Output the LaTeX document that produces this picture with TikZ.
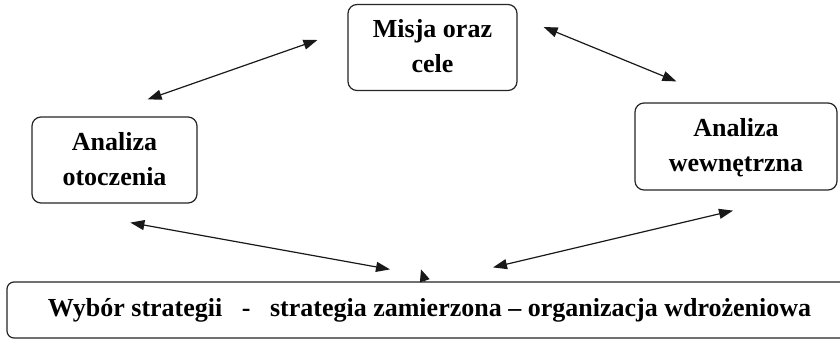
\documentclass[tikz,border=0pt]{standalone}
\usepackage{fontspec}
\setmainfont{Liberation Serif}
\usetikzlibrary{arrows.meta}
\tikzset{
  pole/.style={draw=black!85, line width=1.2pt, rounded corners=9pt,
    align=center, font=\fontsize{26}{35}\selectfont\bfseries, inner sep=0pt},
  strzalka/.style={black!90, line width=1.2pt,
    {Triangle[length=14pt,width=10pt]}-{Triangle[length=14pt,width=10pt]}},
  grot/.style={black!90, line width=1.2pt, -{Triangle[length=12pt,width=10pt]}}
}
\begin{document}
\begin{tikzpicture}[x=1pt,y=-1pt]
      \useasboundingbox (0,0) rectangle (840,340);
      \fill[white] (0,0) rectangle (840,340);
      \node[pole, minimum width=169pt, minimum height=86pt, text depth=3pt] (cele) at (432.5,47.5) {Misja oraz \\ cele};
      \node[pole, minimum width=165pt, minimum height=86pt, text depth=3pt] (otoczenie) at (114.5,160) {Analiza \\ otoczenia};
      \node[pole, minimum width=202pt, minimum height=87pt, text depth=3pt] (wewn) at (736,146.5) {Analiza \\ wewnętrzna};
      \node[pole, rounded corners=7pt, minimum width=845pt, minimum height=56pt] (wybor) at (429.5,310)
        {Wybór strategii~~~-~~~strategia zamierzona – organizacja wdrożeniowa};
      \draw[strzalka] ([shift={(-50,-17)}]otoczenie.north east) -- ([shift={(-30,-7.5)}]cele.west);
      \draw[strzalka] ([shift={(26,-20.5)}]cele.east) -- ([shift={(42,-21)}]wewn.north west);
      \draw[strzalka] ([shift={(99,19)}]otoczenie.south west) -- ([shift={(-39.5,-12)}]wybor.north);
      \draw[strzalka] ([shift={(63.5,-14)}]wybor.north) -- ([shift={(-3,20)}]wewn.south);
      \draw[grot] ([xshift=-4.5pt]wybor.north) -- ([shift={(-8.5,-12)}]wybor.north);
    \end{tikzpicture}
\end{document}
